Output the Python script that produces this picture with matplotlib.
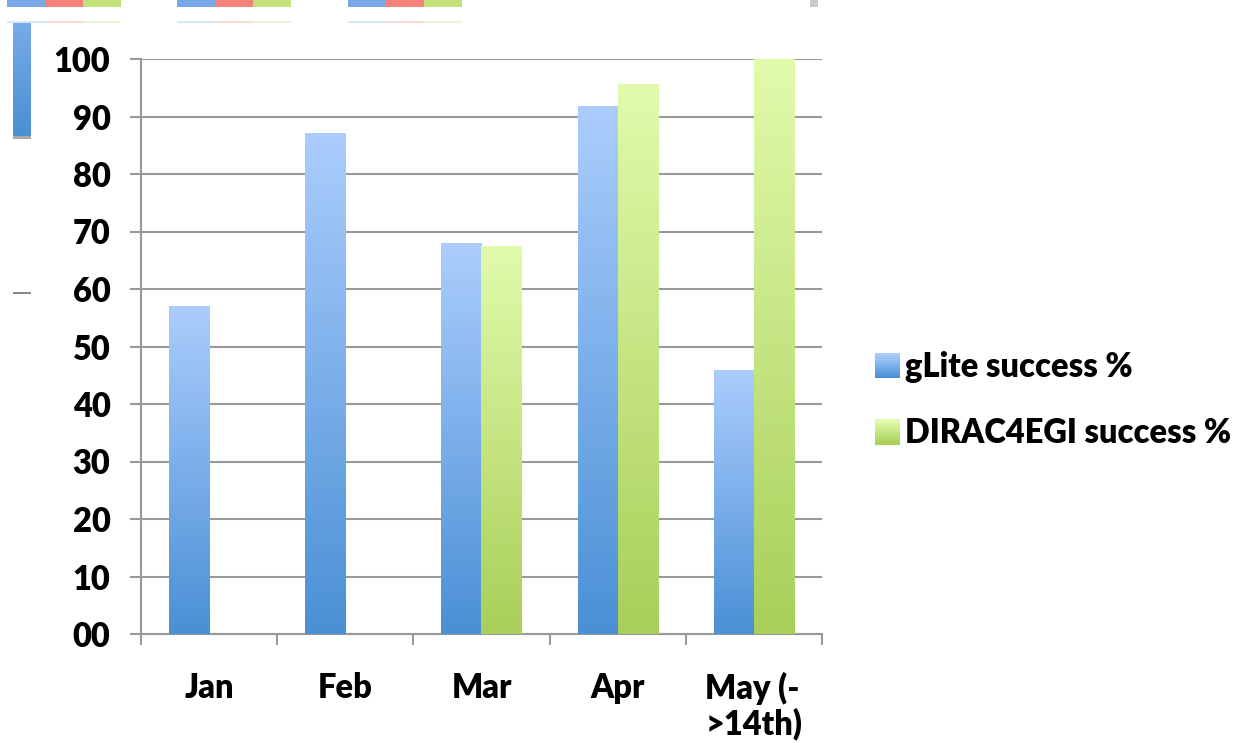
import numpy as np
import matplotlib
matplotlib.use("Agg")
import matplotlib.pyplot as plt
from matplotlib.patches import Rectangle
from matplotlib.colors import LinearSegmentedColormap
from matplotlib.legend_handler import HandlerBase
import matplotlib.patheffects as pe

categories = ["Jan", "Feb", "Mar", "Apr", "May (-\n>14th)"]
glite = [57.0, 87.2, 68.0, 91.8, 46.0]
dirac = [None, None, 67.5, 95.6, 100.0]
series_names = ["gLite success %", "DIRAC4EGI success %"]
yticks = [0, 10, 20, 30, 40, 50, 60, 70, 80, 90, 100]
ytick_labels = ["00", "10", "20", "30", "40", "50", "60", "70", "80", "90", "100"]

glite_top, glite_bot = "#abcdfd", "#4a90d5"
dirac_top, dirac_bot = "#e1fbac", "#a9cf59"

FONT = "Lato"
WEIGHT = "heavy"
FS = 23.5
W, H = 1236, 743
fig = plt.figure(figsize=(W / 100, H / 100), dpi=100)
ax = fig.add_axes([141 / W, 1 - 634 / H, (822 - 141) / W, (634 - 59) / H])

x = np.arange(len(categories))
bw = 0.294

def grad_cmap(top, bot):
    return LinearSegmentedColormap.from_list("g", [bot, top])

gradient = np.linspace(0, 1, 256).reshape(-1, 1)

def draw_series(xs, vals, top, bot):
    cm = grad_cmap(top, bot)
    mask = [v is not None for v in vals]
    xv = [xx for xx, m in zip(xs, mask) if m]
    vv = [v for v, m in zip(vals, mask) if m]
    bars = ax.bar(xv, vv, width=bw, color="none", edgecolor="none", zorder=3)
    for b in bars:
        x0, y0 = b.get_x(), b.get_y()
        w, h = b.get_width(), b.get_height()
        shadow = Rectangle((x0, y0), w, h, facecolor="white", edgecolor="none", zorder=2.5,
                           path_effects=[pe.SimplePatchShadow(offset=(0, 0), shadow_rgbFace="#000000", alpha=0.18),
                                         pe.Normal()])
        ax.add_patch(shadow)
        im = ax.imshow(gradient, cmap=cm, origin="lower", aspect="auto",
                       extent=[x0, x0 + w, y0, y0 + h], zorder=3, interpolation="bilinear")
        im.set_clip_path(b)
    return bars

draw_series(x - bw / 2, glite, glite_top, glite_bot)
draw_series(x + bw / 2, dirac, dirac_top, dirac_bot)

ax.set_xlim(-0.5, len(categories) - 0.5)
ax.set_ylim(0, 100)
ax.set_yticks(yticks)
ax.set_yticklabels(ytick_labels, fontfamily=FONT, fontweight=WEIGHT, fontsize=FS)
ax.set_xticks(x)
ax.set_xticklabels(categories, fontfamily=FONT, fontweight=WEIGHT, fontsize=FS,
                   multialignment="left", va="top", linespacing=1.1)
ax.tick_params(axis="x", length=0, pad=27)
ax.tick_params(axis="y", length=8, width=1.5, color="#999999", pad=14)
ax.set_xticks(np.arange(len(categories) + 1) - 0.5, minor=True)
ax.tick_params(axis="x", which="minor", length=8, width=1.5, color="#999999")
ax.grid(axis="y", color="#999999", linewidth=1.5, zorder=1)
ax.set_axisbelow(True)
for s in ["top", "right"]:
    ax.spines[s].set_visible(False)
for s in ["left", "bottom"]:
    ax.spines[s].set_color("#999999")
    ax.spines[s].set_linewidth(1.5)

class GradHandler(HandlerBase):
    def __init__(self, top, bot):
        super().__init__()
        self.top, self.bot = top, bot
    def create_artists(self, legend, orig_handle, xdescent, ydescent, width, height, fontsize, trans):
        cm = grad_cmap(self.top, self.bot)
        n = 12
        side = 18
        arts = []
        for i in range(n):
            r = Rectangle((width - side, -ydescent + side * i / n - 1), side, side / n + 0.3,
                          facecolor=cm(i / (n - 1)), edgecolor="none", transform=trans)
            arts.append(r)
        return arts

h1 = Rectangle((0, 0), 1, 1)
h2 = Rectangle((0, 0), 1, 1)
leg = fig.legend([h1, h2], series_names, loc="center left", bbox_to_anchor=(843 / W, 1 - 400 / H),
                 frameon=False, handler_map={h1: GradHandler(glite_top, glite_bot),
                                             h2: GradHandler(dirac_top, dirac_bot)},
                 prop={"family": FONT, "weight": WEIGHT, "size": FS},
                 handlelength=0.85, handletextpad=0.14, labelspacing=1.05)

# slide remnants at the top-left (decorative)
def px_rect(x0, y0, x1, y1, color, alpha=1.0):
    fig.patches.append(Rectangle((x0 / W, 1 - y1 / H), (x1 - x0) / W, (y1 - y0) / H,
                                 transform=fig.transFigure, facecolor=color, edgecolor="none", alpha=alpha))

for gx in (7, 177, 348):
    for k, c in enumerate(["#78a9e6", "#f2837b", "#c3e27a"]):
        px_rect(gx + 38 * k, 0, gx + 38 * (k + 1), 7, c)
        px_rect(gx + 38 * k, 21, gx + 38 * (k + 1), 23, c, alpha=0.3)
px_rect(810, 0, 818, 7, "#cccccc")
strip = np.linspace(0, 1, 64).reshape(-1, 1)
sax = fig.add_axes([13 / W, 1 - 137 / H, 18 / W, 114 / H])
sax.imshow(strip, cmap=grad_cmap("#76aae8", "#4a8fd4"), origin="lower", aspect="auto")
sax.axis("off")
px_rect(13, 136, 31, 139, "#aaaaaa")
px_rect(13, 292, 31, 294, "#888888")

fig.savefig("out.png", dpi=100)
